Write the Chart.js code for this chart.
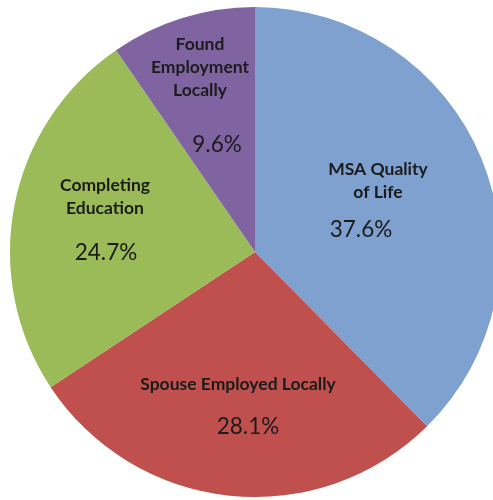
<!DOCTYPE html>
<html>
<head>
<meta charset="utf-8">
<script src="https://cdn.jsdelivr.net/npm/chart.js@4"></script>
<style>
  html, body { margin: 0; padding: 0; background: #fff; overflow: hidden; }
  #wrap { position: absolute; left: 0; top: 0; width: 510px; height: 500px; }
</style>
</head>
<body>
<div id="wrap"><canvas id="reasonsChart"></canvas></div>
<script>
const ctx = document.getElementById('reasonsChart');

//Prepare data
var categories = [['MSA Quality', 'of Life'], ['Spouse Employed Locally'], ['Completing', 'Education'], ['Found', 'Employment', 'Locally']];
var percents = [37.6, 28.1, 24.7, 9.6];
var colors = ['#7FA1CF', '#C0504D', '#9BBB59', '#8064A2'];

//Label layout, offsets from pie centre in px for a 245px radius
var labelPos = [
    { name: [123, -83], pct: [106, -22] },
    { name: [-17, 132], pct: [-7, 175] },
    { name: [-150, -67], pct: [-149, 1] },
    { name: [-55, -208], pct: [-38, -107] }
];

const sliceLabels = {
    id: 'sliceLabels',
    afterDatasetsDraw(chart) {
        const c = chart.ctx;
        const arcs = chart.getDatasetMeta(0).data;
        c.save();
        c.textAlign = 'center';
        c.textBaseline = 'middle';
        arcs.forEach((arc, i) => {
            const k = arc.outerRadius / 245;
            const lp = labelPos[i];
            c.fillStyle = '#1b1b1b';
            c.font = 'bold 17.5px Lato';
            categories[i].forEach((line, j) => {
                c.fillText(line, arc.x + lp.name[0] * k, arc.y + lp.name[1] * k + j * 23);
            });
            c.font = '22.5px Lato';
            c.fillText(percents[i].toFixed(1) + '%', arc.x + lp.pct[0] * k, arc.y + lp.pct[1] * k);
        });
        c.restore();
    }
};

//Create chart
new Chart(ctx, {
    type: 'pie',
    data: {
        labels: categories.map(l => l.join(' ')),
        datasets: [{
            data: percents,
            backgroundColor: colors,
            borderWidth: 0
        }]
    },
    options: {
        responsive: true,
        maintainAspectRatio: false,
        animation: false,
        layout: { padding: { top: 7, bottom: 3, left: 10, right: 10 } },
        plugins: {
            legend: { display: false },
            tooltip: { enabled: false }
        }
    },
    plugins: [sliceLabels]
});
</script>
</body>
</html>
